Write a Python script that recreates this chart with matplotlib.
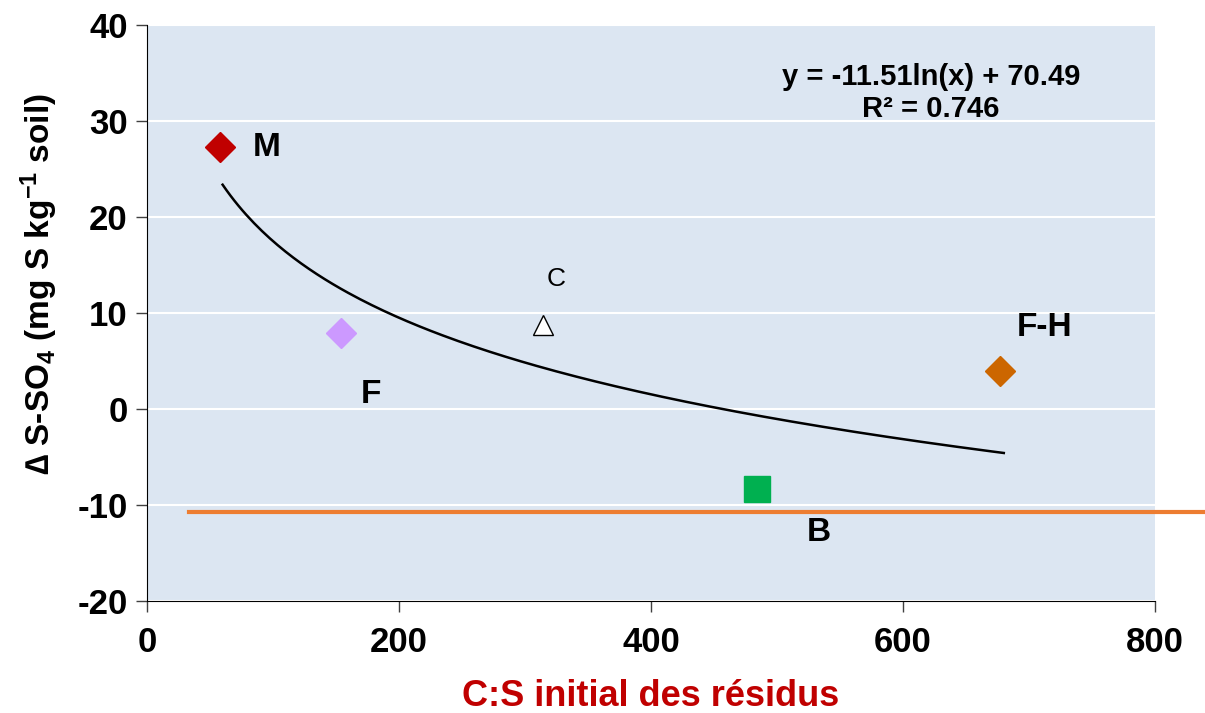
import numpy as np
import matplotlib.pyplot as plt

plt.rcParams['font.family'] = ['Liberation Sans', 'DejaVu Sans']
plt.rcParams['mathtext.fontset'] = 'custom'
plt.rcParams['mathtext.rm'] = 'Liberation Sans:bold'
plt.rcParams['mathtext.default'] = 'rm'
plt.rcParams['axes.unicode_minus'] = False

# points
labels = ['M', 'F', 'C', 'B', 'F-H']
cs_ratio = [58, 154, 314, 484, 677]
delta_so4 = [27.3, 7.9, 8.7, -8.3, 4.0]
colors = ['#c00000', '#cc99ff', 'none', '#00b050', '#cc6600']
markers = ['D', 'D', '^', 's', 'D']

# log fit shown on chart
fit_a = -11.51
fit_b = 70.49
fit_range = [60, 680]

control_level = -10.7

fig = plt.figure(figsize=(12.05, 7.13), dpi=100)
ax = fig.add_axes([0.122, 0.157, 0.8365, 0.808])
ax.set_facecolor('#dce6f2')

for i in range(len(labels)):
    if markers[i] == '^':
        ax.plot(cs_ratio[i], delta_so4[i], marker='^', ms=14, mfc='white',
                mec='black', mew=1, ls='none', zorder=4)
    else:
        ax.plot(cs_ratio[i], delta_so4[i], marker=markers[i], ms=19 if markers[i] == 's' else 15,
                color=colors[i], ls='none', zorder=4)

xs = np.linspace(fit_range[0], fit_range[1], 200)
ax.plot(xs, fit_a * np.log(xs) + fit_b, color='black', lw=1.8, zorder=3)

ax.plot([33, 840], [control_level, control_level], color='#ed7d31', lw=3,
        clip_on=False, zorder=3)

ax.text(95, 27.2, 'M', fontsize=24, fontweight='bold', va='center', ha='center')
ax.text(178, 1.5, 'F', fontsize=24, fontweight='bold', va='center', ha='center')
ax.text(325, 13.5, 'C', fontsize=19, va='center', ha='center')
ax.text(712, 8.5, 'F-H', fontsize=24, fontweight='bold', va='center', ha='center')
ax.text(533, -12.9, 'B', fontsize=24, fontweight='bold', va='center', ha='center')
ax.text(622, 32.9, 'y = -11.51ln(x) + 70.49\nR² = 0.746', fontsize=21,
        fontweight='bold', va='center', ha='center', linespacing=1.2)

ax.set_xlim(0, 800)
ax.set_ylim(-20, 40)
ax.set_xticks([0, 200, 400, 600, 800])
ax.set_yticks([-20, -10, 0, 10, 20, 30, 40])
ax.yaxis.grid(True, color='white', lw=1.5)
ax.set_axisbelow(True)
for s in ['top', 'right']:
    ax.spines[s].set_visible(False)
ax.tick_params(axis='both', labelsize=25, direction='out', length=8, width=1, color='#404040')
ax.tick_params(axis='x', pad=10)
ax.tick_params(axis='y', pad=6)
for lab in ax.get_xticklabels() + ax.get_yticklabels():
    lab.set_fontweight('bold')

ax.set_xlabel('C:S initial des résidus', fontsize=26, fontweight='bold', color='#c00000', labelpad=14)
ax.set_ylabel('∆ S-SO$_4$ (mg S kg$^{-1}$ soil)', fontsize=24, fontweight='bold')
ax.yaxis.set_label_coords(-0.086, 0.55)

plt.savefig('out.png', dpi=100)
